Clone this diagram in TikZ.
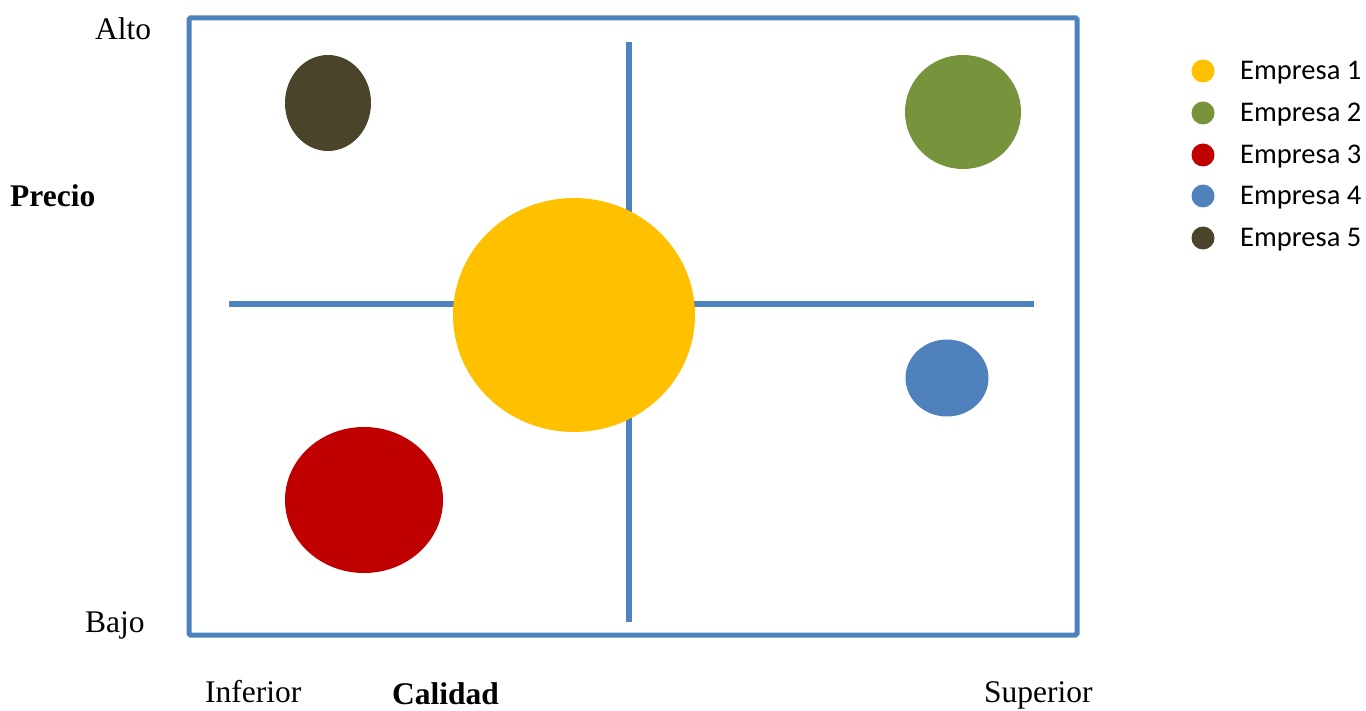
\documentclass[tikz,border=0pt]{standalone}
\usepackage{fontspec}
\setmainfont{Liberation Serif}
\newfontfamily\legfont{Carlito}
\usetikzlibrary{shapes.geometric}
\definecolor{cBlue}{HTML}{4F81BD}
\definecolor{cYellow}{HTML}{FFC000}
\definecolor{cGreen}{HTML}{77933C}
\definecolor{cRed}{HTML}{C00000}
\definecolor{cBrown}{HTML}{4A452A}
\begin{document}
\begin{tikzpicture}[x=1pt,y=-1pt,
  blob/.style={ellipse, inner sep=0pt, draw=none},
  axisline/.style={cBlue, line width=6.5pt},
  framebox/.style={cBlue, line width=5pt, rounded corners=1.5pt},
  lbl/.style={anchor=base west, inner sep=0pt, font=\fontsize{31.5}{36}\selectfont},
  blbl/.style={lbl, font=\fontsize{31.5}{36}\selectfont\bfseries},
  legdot/.style={circle, inner sep=0pt, minimum size=23pt},
  legtxt/.style={anchor=west, inner sep=0pt, font=\legfont\fontsize{28.5}{32}\selectfont}]
\useasboundingbox (0,0) rectangle (1366,711);
% frame
\draw[framebox] (189,18) rectangle (1077,635);
% axes
\coordinate (vt) at (629,42);
\coordinate (vb) at (629,622);
\coordinate (hl) at (229,304);
\coordinate (hr) at (1034,304);
\draw[axisline] (vt) -- (vb);
\draw[axisline] (hl) -- (hr);
% companies
\node[blob, fill=cYellow, minimum width=242pt, minimum height=234pt] (e1) at (574,315) {};
\node[blob, fill=cGreen, minimum width=116pt, minimum height=114pt] (e2) at (963,112) {};
\node[blob, fill=cRed, minimum width=158pt, minimum height=146pt] (e3) at (364,500) {};
\node[blob, fill=cBlue, minimum width=83pt, minimum height=77pt] (e4) at (947,378) {};
\node[blob, fill=cBrown, minimum width=86pt, minimum height=96pt] (e5) at (328,103) {};
% labels
\node[lbl] (alto) at (95,40) {Alto};
\node[blbl] (precio) at (10,207) {Precio};
\node[lbl] (bajo) at (85,632) {Bajo};
\node[lbl] (inf) at (205,702) {Inferior};
\node[blbl] (cal) at (392,704) {Calidad};
\node[lbl] (sup) at (984,702) {Superior};
% legend
\node[legdot, fill=cYellow] (d1) at (1203,71) {};
\node[legdot, fill=cGreen] (d2) at (1203,113) {};
\node[legdot, fill=cRed] (d3) at (1203,155) {};
\node[legdot, fill=cBlue] (d4) at (1203,196) {};
\node[legdot, fill=cBrown] (d5) at (1203,238) {};
\node[legtxt] (t1) at (1240,73) {Empresa 1};
\node[legtxt] (t2) at (1240,115) {Empresa 2};
\node[legtxt] (t3) at (1240,157) {Empresa 3};
\node[legtxt] (t4) at (1240,198) {Empresa 4};
\node[legtxt] (t5) at (1240,240) {Empresa 5};
\end{tikzpicture}
\end{document}
